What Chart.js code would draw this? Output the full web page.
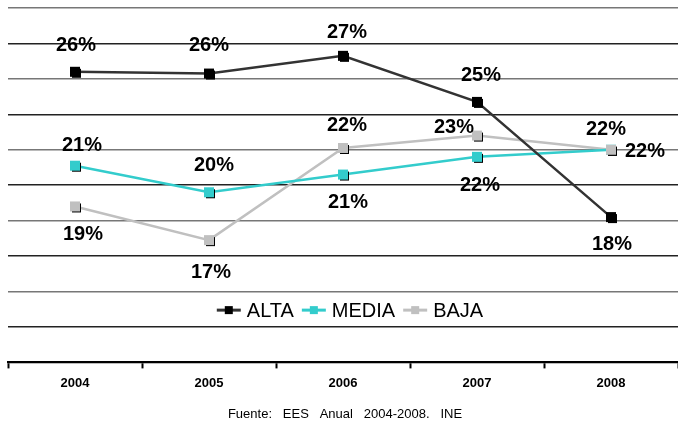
<!DOCTYPE html>
<html lang="es">
<head>
<meta charset="UTF-8">
<title>ALTA / MEDIA / BAJA 2004-2008</title>
<script src="https://cdn.jsdelivr.net/npm/chart.js"></script>
<style>
  html, body { margin: 0; padding: 0; background: #fff; }
  #wrap { width: 678px; height: 423px; }
</style>
</head>
<body>
<div id="wrap"><canvas id="chart" width="678" height="423"></canvas></div>
<script>
// data
const years = ["2004", "2005", "2006", "2007", "2008"];
const alta  = [26.4, 26.3, 27.3, 24.7, 18.2];
const media = [21.1, 19.6, 20.6, 21.6, 22.0];
const baja  = [18.8, 16.9, 22.1, 22.8, 22.0];
const seriesNames = ["ALTA", "MEDIA", "BAJA"];
const footer = "Fuente:   EES   Anual   2004-2008.   INE";

// where each value label sits relative to its point [dx, dy]
const labelOffsets = [
  [[1, -26], [0, -28], [4, -23], [4, -26], [1, 27]],
  [[7, -20], [5, -27], [5, 28], [3, 29], [34, 2]],
  [[8, 28], [2, 32], [4, -23], [-23, -8], [-5, -20]]
];

// black drop shadow behind each square marker
const shadowPlugin = {
  id: "shadow",
  afterDatasetsDraw(chart) {
    const ctx = chart.ctx;
    ctx.save();
    chart.data.datasets.forEach((ds, i) => {
      chart.getDatasetMeta(i).data.forEach(pt => {
        ctx.fillStyle = "#000";
        ctx.fillRect(pt.x - 3, pt.y - 3, 9, 9);
        ctx.fillStyle = ds.pointBackgroundColor;
        ctx.fillRect(pt.x - 5, pt.y - 5, 10, 10);
      });
    });
    ctx.restore();
  }
};

const labelPlugin = {
  id: "valueLabels",
  afterDatasetsDraw(chart) {
    const ctx = chart.ctx;
    ctx.save();
    ctx.font = "bold 20px Arial, 'Liberation Sans', sans-serif";
    ctx.fillStyle = "#000";
    ctx.textAlign = "center";
    ctx.textBaseline = "middle";
    chart.data.datasets.forEach((ds, i) => {
      chart.getDatasetMeta(i).data.forEach((pt, j) => {
        const off = labelOffsets[i][j];
        ctx.fillText(Math.round(ds.data[j]) + "%", pt.x + off[0], pt.y + off[1]);
      });
    });
    ctx.restore();
  }
};

// legend drawn inside the plot, near the bottom
const legendPlugin = {
  id: "innerLegend",
  afterDraw(chart) {
    const ctx = chart.ctx;
    const area = chart.chartArea;
    ctx.save();
    ctx.font = "20px Arial, 'Liberation Sans', sans-serif";
    ctx.textBaseline = "middle";
    const lineW = 24, gap = 6, itemGap = 8;
    const items = chart.data.datasets.map(ds => ({
      ds, w: lineW + gap + ctx.measureText(ds.label).width
    }));
    const total = items.reduce((s, it) => s + it.w, 0) + itemGap * (items.length - 1);
    let x = (area.left + area.right) / 2 - total / 2 + 7;
    const y = chart.scales.y.getPixelForValue(12.95);
    items.forEach(it => {
      ctx.strokeStyle = it.ds.borderColor;
      ctx.lineWidth = 3;
      ctx.beginPath();
      ctx.moveTo(x, y);
      ctx.lineTo(x + lineW, y);
      ctx.stroke();
      ctx.fillStyle = it.ds.pointBackgroundColor;
      ctx.fillRect(x + lineW / 2 - 4, y - 4, 8, 8);
      ctx.fillStyle = "#000";
      ctx.fillText(it.ds.label, x + lineW + gap, y + 1);
      x += it.w + itemGap;
    });
    // footer source line
    ctx.font = "13px Arial, 'Liberation Sans', sans-serif";
    ctx.textAlign = "center";
    ctx.fillText(footer, 345, 414);
    ctx.restore();
  }
};

new Chart(document.getElementById("chart"), {
  type: "line",
  data: {
    labels: years,
    datasets: [
      {
        label: seriesNames[0], data: alta,
        borderColor: "#333333", pointBackgroundColor: "#000000",
        borderWidth: 2.5, pointRadius: 0, tension: 0
      },
      {
        label: seriesNames[1], data: media,
        borderColor: "#33CCCC", pointBackgroundColor: "#33CCCC",
        borderWidth: 2.5, pointRadius: 0, tension: 0
      },
      {
        label: seriesNames[2], data: baja,
        borderColor: "#C0C0C0", pointBackgroundColor: "#C0C0C0",
        borderWidth: 2.5, pointRadius: 0, tension: 0
      }
    ]
  },
  options: {
    responsive: false,
    animation: false,
    layout: { padding: { left: 8, right: 0, top: 8, bottom: 25 } },
    plugins: {
      legend: { display: false },
      tooltip: { enabled: false }
    },
    scales: {
      x: {
        offset: true,
        grid: {
          offset: true, drawOnChartArea: false, drawTicks: true,
          tickLength: 6, color: "#000", tickWidth: 2
        },
        border: { display: true, color: "#000", width: 2 },
        ticks: {
          color: "#000", padding: 7,
          font: { family: "Arial, 'Liberation Sans', sans-serif", size: 13, weight: "bold" }
        }
      },
      y: {
        min: 10, max: 30,
        ticks: { display: false, stepSize: 2 },
        border: { display: false },
        grid: {
          drawTicks: false,
          lineWidth: 1.5,
          color: ctx => (ctx.index % 2 === 1 ? "#222" : "#777")
        }
      }
    }
  },
  plugins: [shadowPlugin, labelPlugin, legendPlugin]
});
</script>
</body>
</html>
